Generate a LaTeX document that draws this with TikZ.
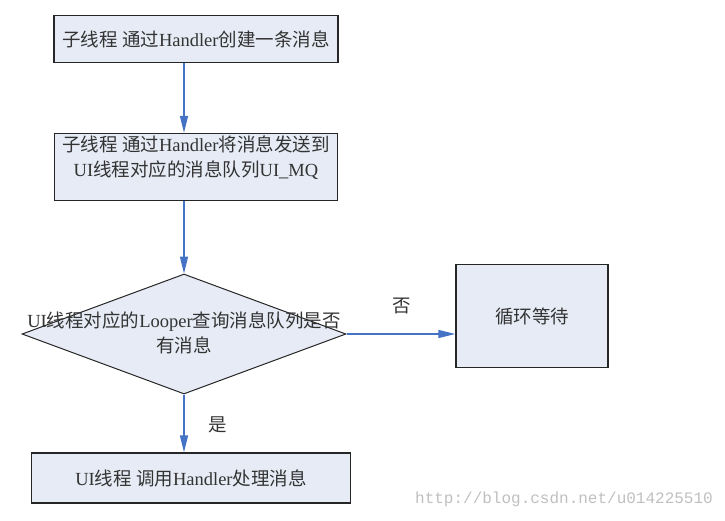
\documentclass[tikz,border=0pt]{standalone}
\usepackage{fontspec}
\setmainfont{Liberation Serif}
\newfontfamily\cjk{Noto Sans CJK SC}
\newfontfamily\wmfont{Liberation Mono}
\usetikzlibrary{shapes.geometric,arrows.meta}
\definecolor{boxfill}{HTML}{E6EBF5}
\definecolor{arrowblue}{HTML}{4472C4}
\definecolor{txt}{HTML}{333333}
\begin{document}
\begin{tikzpicture}[x=1pt,y=-1pt,
  box/.style={draw=black!85,line width=1.3pt,fill=boxfill,inner sep=0pt},
  lbl/.style={text=txt,font=\fontsize{18.5}{25}\selectfont,align=center,inner sep=0pt},
  flow/.style={draw=arrowblue,line width=1.3pt,-{Triangle[length=17pt,width=8pt]}}]
\useasboundingbox (0,0) rectangle (725,520);
% boxes
\node[box,minimum width=284pt,minimum height=47pt] (b1) at (196,39) {};
\node[lbl] (t1) at (b1.center) {{\cjk 子线程 通过}Handler{\cjk 创建一条消息}};
\node[box,minimum width=283pt,minimum height=67pt] (b2) at (196,167) {};
\node[lbl] (t2) at (196,158) {{\cjk 子线程 通过}Handler{\cjk 将消息发送到}\\UI{\cjk 线程对应的消息队列}UI\_MQ};
\node[box,diamond,minimum width=324pt,minimum height=120pt,line width=1pt] (d) at (184,334) {};
\node[lbl] (td) at (184,333) {UI{\cjk 线程对应的}Looper{\cjk 查询消息队列是否}\\{\cjk 有消息}};
\node[box,minimum width=152pt,minimum height=103pt] (b3) at (532,316) {};
\node[lbl] (t3) at (b3.center) {{\cjk 循环等待}};
\node[box,minimum width=319pt,minimum height=50pt] (b4) at (191,478) {};
\node[lbl] (t4) at (b4.center) {UI{\cjk 线程 调用}Handler{\cjk 处理消息}};
% arrows
\draw[flow] (b1.south -| d.north) -- (b2.north -| d.north);
\draw[flow] (b2.south -| d.north) -- (d.north);
\draw[flow] (d.east) -- (b3.west |- d.east);
\draw[flow] (d.south) -- (b4.north -| d.south);
% labels
\node[lbl] (no) at (402,306) {{\cjk 否}};
\node[lbl] (yes) at (218,425) {{\cjk 是}};
\node[text=black!25,font=\wmfont\fontsize{16}{18}\selectfont,inner sep=0pt,anchor=east] (wm) at (713,499) {http://blog.csdn.net/u014225510};
\end{tikzpicture}
\end{document}
